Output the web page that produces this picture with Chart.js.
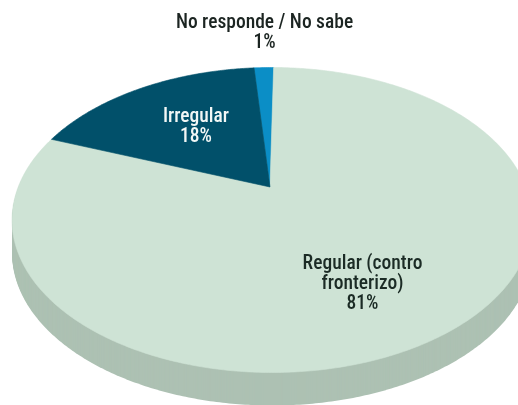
<!DOCTYPE html>
<html><head><meta charset="utf-8">
<style>html,body{margin:0;padding:0;background:#fff}#w{width:518px;height:405px;position:relative;overflow:hidden}</style>
<script src="https://cdn.jsdelivr.net/npm/chart.js@4"></script></head>
<body><div id="w"><canvas id="c" width="518" height="405"></canvas></div>
<script>
const categories = ['No responde / No sabe', 'Regular (contro fronterizo)', 'Irregular'];
const sliceValues = [1.5, 80.5, 18];
const printedPercents = ['1%', '81%', '18%'];
const sliceColors = ['#0b8ec6', '#cee3d5', '#01506a'];
const sideColor = '#adc1b3';

// Rim of the tilted disc, expressed relative to the pie element's own centre and radius.
const tilt = {k: 0.217, sx: 1.348, sy: 0.774, depth: 33, ox: 0.0107, oy: 0.1765, rx: 1.39, ry: 0.8155};
function project(arc, a, dy) {
  const R = arc.outerRadius, u = Math.cos(a), v = Math.sin(a), w = 1 - tilt.k * v;
  const dx = tilt.sx * u / w, dyy = tilt.sy * v / w;
  // walk from the apex along that direction until the rim ellipse is met
  const px = -tilt.ox / tilt.rx, py = -tilt.oy / tilt.ry, qx = dx / tilt.rx, qy = dyy / tilt.ry;
  const A = qx * qx + qy * qy, B = px * qx + py * qy, C = px * px + py * py - 1;
  const t = (-B + Math.sqrt(B * B - A * C)) / A;
  return [arc.x + R * dx * t, arc.y + R * dyy * t + (dy || 0)];
}
function tracePath(ctx, arc, start, end, dy, wedge) {
  const n = Math.max(2, Math.ceil((end - start) / 0.01));
  ctx.beginPath();
  if (wedge) ctx.moveTo(arc.x, arc.y + dy);
  for (let i = 0; i <= n; i++) {
    const p = project(arc, start + (end - start) * i / n, dy);
    if (i === 0 && !wedge) ctx.moveTo(p[0], p[1]); else ctx.lineTo(p[0], p[1]);
  }
  ctx.closePath();
}
const tiltedPie = {
  id: 'tiltedPie',
  beforeDatasetsDraw(chart) {
    const ctx = chart.ctx, arcs = chart.getDatasetMeta(0).data, a0 = arcs[0];
    ctx.save();
    ctx.fillStyle = sideColor;
    for (let d = tilt.depth; d > 0; d--) { tracePath(ctx, a0, 0, Math.PI * 2, d, false); ctx.fill(); }
    arcs.forEach((arc, i) => {
      tracePath(ctx, arc, arc.startAngle, arc.endAngle, 0, true);
      ctx.fillStyle = sliceColors[i];
      ctx.strokeStyle = sliceColors[i];
      ctx.lineWidth = 0.6;
      ctx.fill(); ctx.stroke();
    });
    ctx.restore();
    return false;
  }
};
const labelBlocks = [
  {lines: [categories[0], printedPercents[0]], x: 264.5, y: 23.5, color: '#1b2421'},
  {lines: ['Regular (contro', 'fronterizo)', printedPercents[1]], x: 362.5, y: 264.5, color: '#1b2b25'},
  {lines: [categories[2], printedPercents[2]], x: 196, y: 117.5, color: '#f2f7f6'}
];
const textPlugin = {
  id: 'texts',
  afterDraw(chart) {
    const ctx = chart.ctx;
    ctx.save();
    ctx.font = '500 19.5px "Liberation Sans Narrow", "Roboto Condensed", "Noto Sans", sans-serif';
    ctx.textAlign = 'center'; ctx.textBaseline = 'middle';
    labelBlocks.forEach(b => {
      ctx.fillStyle = b.color;
      b.lines.forEach((t, j) => ctx.fillText(t, b.x, b.y + j * 20));
    });
    ctx.restore();
  }
};
new Chart(document.getElementById('c'), {
  type: 'pie',
  data: {labels: categories, datasets: [{data: sliceValues, backgroundColor: sliceColors, borderWidth: 0}]},
  options: {
    responsive: false, animation: false, rotation: -4.4,
    layout: {padding: {left: 22, bottom: 31, right: 0, top: 0}},
    plugins: {legend: {display: false}, tooltip: {enabled: false}}
  },
  plugins: [tiltedPie, textPlugin]
});
</script></body></html>
